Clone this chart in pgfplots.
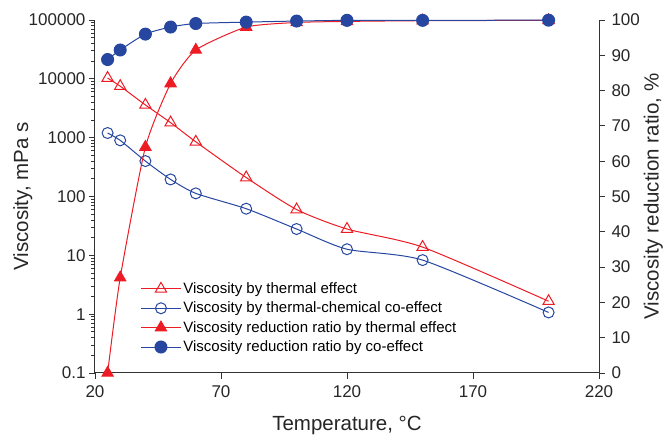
\documentclass[border=0pt]{standalone}
\usepackage{pgfplots}
\pgfplotsset{compat=1.18}
\usepackage{fontspec}
\setmainfont{Liberation Sans}
\definecolor{cred}{RGB}{237,28,36}
\definecolor{cblue}{RGB}{38,70,160}
\begin{document}
\begin{tikzpicture}
\useasboundingbox (-95pt,-68pt) rectangle (572pt,373pt);
\pgfplotsset{
  every axis/.append style={
    scale only axis, width=504pt, height=353pt,
    xmin=20, xmax=220,
    /pgf/number format/assume math mode=true,
    tick label style={font=\fontsize{17}{20}\selectfont, color=black!85},
    label style={font=\fontsize{20.5}{24}\selectfont, color=black!85},
    tick align=outside,
    major tick length=6pt, minor tick length=3.5pt,
    axis line style={black!80, line width=1pt},
    every tick/.style={black!80, line width=0.8pt},
  }
}
\begin{axis}[
  ymode=log, ymin=0.1, ymax=100000,
  axis y line*=left, axis x line*=bottom,
  xtick={20,70,120,170,220},
  ytick={0.1,1,10,100,1000,10000,100000},
  yticklabels={0.1,1,10,100,1000,10000,100000},
  xticklabel style={yshift=-3pt},
  xlabel={Temperature, °C},
  ylabel={Viscosity, mPa s},
  xlabel style={at={(axis description cs:0.5,0)}, anchor=north, yshift=-40pt},
  ylabel style={at={(axis description cs:0,0.5)}, anchor=south, yshift=59pt},
  clip=false,
]
\addplot[cred, line width=1pt, smooth, tension=0.4, mark=triangle, mark size=6.5pt, mark options={line width=1pt, fill=white, solid}] coordinates {
(25,10300) (30,7500) (40,3600) (50,1800) (60,850) (80,210) (100,60) (120,28) (150,13.8) (200,1.66)};
\addplot[cblue, line width=1pt, smooth, tension=0.4, mark=o, mark size=5.5pt, mark options={line width=1pt, fill=white, solid}] coordinates {
(25,1200) (30,900) (40,400) (50,195) (60,113) (80,62) (100,28) (120,12.7) (150,8.3) (200,1.07)};
\end{axis}
\begin{axis}[
  ymin=0, ymax=100,
  axis y line*=right, axis x line=none,
  ytick={0,10,...,100},
  yticklabel style={xshift=3pt},
  ylabel={Viscosity reduction ratio, \%},
  ylabel style={at={(axis description cs:1.082,0.5)}, anchor=north},
  legend style={at={(axis description cs:0.09,0.262)}, anchor=north west, draw=none, fill=none,
    font=\fontsize{15}{18}\selectfont, row sep=3pt, inner sep=0pt},
  legend cell align=left,
  legend image code/.code={\draw[#1] (0cm,0cm) -- (1.4cm,0cm); \draw[#1, mark repeat=1] plot coordinates {(0.7cm,0cm)};},
]
\addlegendimage{cred, line width=1pt, mark=triangle, mark size=6.5pt, mark options={line width=1pt, fill=white, solid}}
\addlegendentry{Viscosity by thermal effect}
\addlegendimage{cblue, line width=1pt, mark=o, mark size=5.5pt, mark options={line width=1pt, fill=white, solid}}
\addlegendentry{Viscosity by thermal-chemical co-effect}
\addplot[cred, line width=1pt, smooth, tension=0.35, mark=triangle*, mark size=6.5pt, mark options={fill=cred, solid}] coordinates {
(25,0) (30,27) (40,64) (50,82) (60,91.5) (80,98) (100,99.3) (120,99.6) (150,99.8) (200,99.9)};
\addlegendentry{Viscosity reduction ratio by thermal effect}
\addplot[cblue, line width=1pt, smooth, tension=0.4, mark=*, mark size=6pt, mark options={fill=cblue, solid}] coordinates {
(25,88.8) (30,91.5) (40,96) (50,98) (60,99) (80,99.4) (100,99.7) (120,99.9) (150,99.9) (200,99.95)};
\addlegendentry{Viscosity reduction ratio by co-effect}
\end{axis}
\end{tikzpicture}
\end{document}
